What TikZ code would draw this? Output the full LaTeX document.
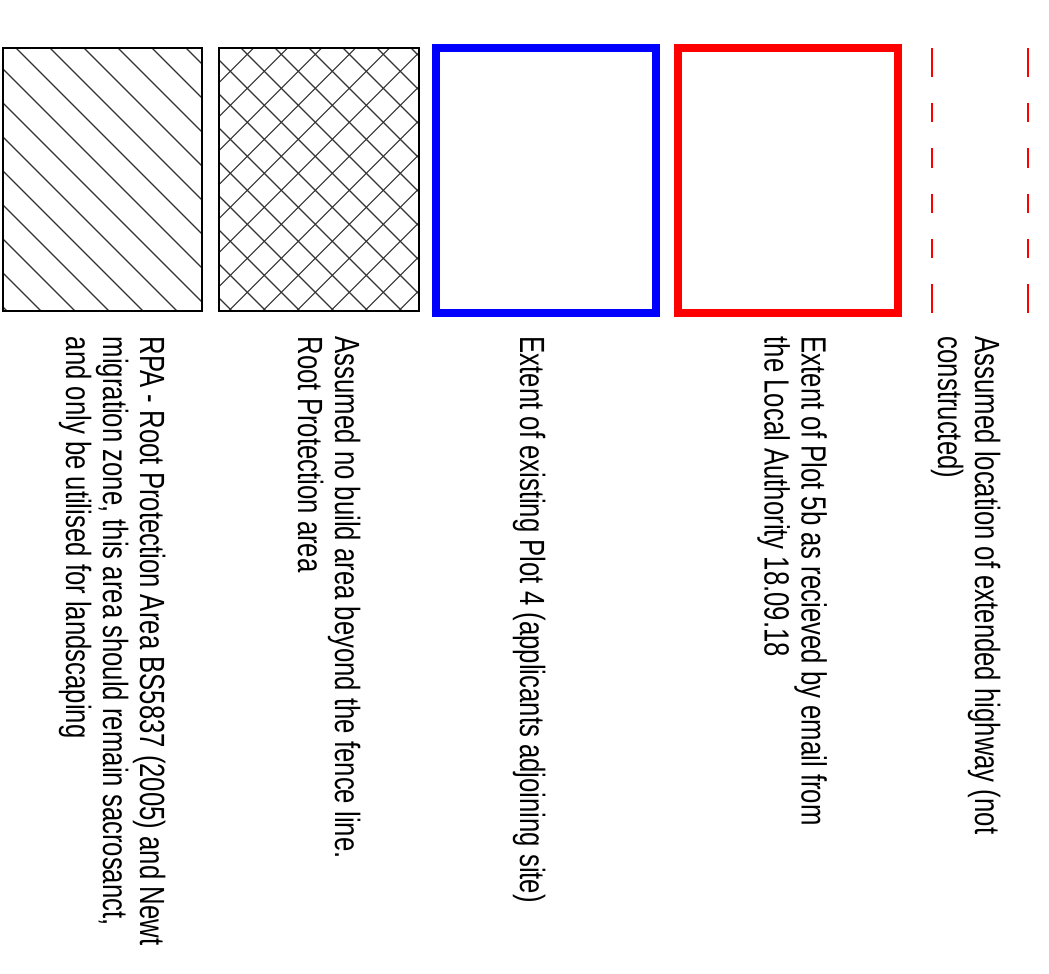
\documentclass[tikz,border=0pt]{standalone}
\usepackage{fontspec}
\setmainfont[FakeStretch=0.735]{Liberation Sans}
\tikzset{
  legtext/.style={rotate=-90, anchor=base west, inner sep=0pt, font=\fontsize{35}{37}\selectfont},
  thinbox/.style={draw=black, line width=1.8pt},
  hatchline/.style={line width=1.1pt, black!80},
  thickbox/.style={line width=8pt},
  roadline/.style={red, line width=2pt, dash pattern=on 28.4pt off 26.3pt on 18.7pt off 26.3pt on 19.7pt off 26.3pt on 18.7pt off 26.3pt on 19pt off 26pt on 29pt off 100pt}
}
\newcommand{\legpar}[1]{\parbox[t]{700pt}{\raggedright #1}}
\begin{document}
\begin{tikzpicture}[x=1pt,y=1pt]
\useasboundingbox[fill=white] (0,0) rectangle (1049,-974);
% single hatch
\begin{scope}
  \clip (3.3,-48.3) rectangle (202.3,-310.7);
  \foreach \c in {-338,-304,...,206} \draw[hatchline] (\c,0) -- ({\c+360},-360);
\end{scope}
\draw[thinbox] (3.3,-48.3) rectangle (202.3,-310.7);
% cross hatch
\begin{scope}
  \clip (219.3,-48.3) rectangle (419,-310.7);
  \foreach \c in {-317,-283,...,397} \draw[hatchline] (\c,0) -- ({\c+360},-360);
  \foreach \c in {233.7,267.7,...,777.7} \draw[hatchline] (\c,0) -- ({\c-360},-360);
\end{scope}
\draw[thinbox] (219.3,-48.3) rectangle (419,-310.7);
% blue and red boxes
\draw[thickbox, blue] (436,-48.5) rectangle (656,-313);
\draw[thickbox, red] (678,-48.5) rectangle (898,-313);
% dashed highway lines
\coordinate (h1a) at (932.3,-48.3);
\coordinate (h1b) at (932.3,-313);
\coordinate (h2a) at (1028,-48.3);
\coordinate (h2b) at (1028,-313);
\draw[roadline] (h1a) -- (h1b);
\draw[roadline] (h2a) -- (h2b);
% texts
\node[legtext] (t1) at (975,-336.5) {\legpar{Assumed location of extended highway (not\\constructed)}};
\node[legtext] (t2) at (801.7,-336.5) {\legpar{Extent of Plot 5b as recieved by email from\\the Local Authority 18.09.18}};
\node[legtext] (t3) at (520,-336.5) {\legpar{Extent of existing Plot 4 (applicants adjoining site)}};
\node[legtext] (t4) at (335,-336.5) {\legpar{Assumed no build area beyond the fence line.\\Root Protection area}};
\node[legtext] (t5) at (140,-336.5) {\legpar{RPA - Root Protection Area BS5837 (2005) and Newt\\migration zone, this area should remain sacrosanct,\\and only be utilised for landscaping}};
\end{tikzpicture}
\end{document}
